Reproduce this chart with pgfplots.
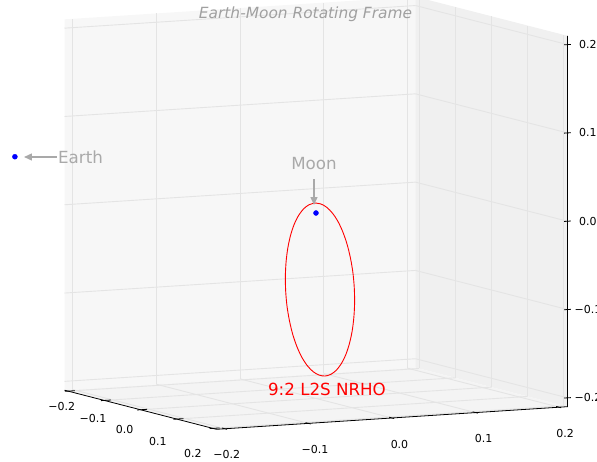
\documentclass[border=0pt]{standalone}
\usepackage{fontspec}
\setmainfont{DejaVu Sans}
\usepackage{pgfplots}
\pgfplotsset{compat=1.18}
\usetikzlibrary{arrows.meta}
\definecolor{paneX}{HTML}{F7F7F7}
\definecolor{paneY}{HTML}{F0F0F0}
\definecolor{paneZ}{HTML}{F4F4F4}
\definecolor{gridc}{HTML}{E4E4E4}
\definecolor{annot}{HTML}{A9A9A9}
\definecolor{titlec}{HTML}{A0A0A0}
\newcommand{\ticksize}{\fontsize{11}{13}\selectfont}
\newcommand{\mns}{\char"2212\relax}
\begin{document}
\begin{tikzpicture}
\begin{axis}[
  set layers,
  anchor=origin, at={(0pt,0pt)},
  x={(361.9pt,-93.1pt)}, y={(835.7pt,53.9pt)}, z={(0pt,883pt)},
  xmin=-0.21,xmax=0.21,ymin=-0.21,ymax=0.21,zmin=-0.21,zmax=0.21,
  clip=false,
  axis line style={draw=none},
  xtick={-0.2,-0.1,0,0.1,0.2},
  ytick={-0.2,-0.1,0,0.1,0.2},
  ztick={-0.2,-0.1,0,0.1,0.2},
  xticklabels={},yticklabels={},zticklabels={},
  major tick length=0pt,
  grid=major,
  major grid style={draw=gridc, line width=0.9pt},
]
\begin{pgfonlayer}{axis background}
\fill[paneX] (axis cs:-0.21,-0.21,-0.21) -- (axis cs:-0.21,0.21,-0.21) -- (axis cs:-0.21,0.21,0.21) -- (axis cs:-0.21,-0.21,0.21) -- cycle;
\fill[paneY] (axis cs:-0.21,0.21,-0.21) -- (axis cs:0.21,0.21,-0.21) -- (axis cs:0.21,0.21,0.21) -- (axis cs:-0.21,0.21,0.21) -- cycle;
\fill[paneZ] (axis cs:-0.21,-0.21,-0.21) -- (axis cs:0.21,-0.21,-0.21) -- (axis cs:0.21,0.21,-0.21) -- (axis cs:-0.21,0.21,-0.21) -- cycle;
\end{pgfonlayer}
% axis lines
\draw[black, line width=0.8pt] (axis cs:-0.21,-0.21,-0.21) -- (axis cs:0.21,-0.21,-0.21) -- (axis cs:0.21,0.21,-0.21) -- (axis cs:0.21,0.21,0.21);
% tick marks
\draw[black, line width=0.8pt] (axis cs:-0.2,-0.214,-0.21) -- (axis cs:-0.2,-0.202,-0.21);
\draw[black, line width=0.8pt] (axis cs:-0.1,-0.214,-0.21) -- (axis cs:-0.1,-0.202,-0.21);
\draw[black, line width=0.8pt] (axis cs:0,-0.214,-0.21) -- (axis cs:0,-0.202,-0.21);
\draw[black, line width=0.8pt] (axis cs:0.1,-0.214,-0.21) -- (axis cs:0.1,-0.202,-0.21);
\draw[black, line width=0.8pt] (axis cs:0.2,-0.214,-0.21) -- (axis cs:0.2,-0.202,-0.21);
\draw[black, line width=0.8pt] (axis cs:0.202,-0.2,-0.21) -- (axis cs:0.216,-0.2,-0.21);
\draw[black, line width=0.8pt] (axis cs:0.202,-0.1,-0.21) -- (axis cs:0.216,-0.1,-0.21);
\draw[black, line width=0.8pt] (axis cs:0.202,0,-0.21) -- (axis cs:0.216,0,-0.21);
\draw[black, line width=0.8pt] (axis cs:0.202,0.1,-0.21) -- (axis cs:0.216,0.1,-0.21);
\draw[black, line width=0.8pt] (axis cs:0.202,0.2,-0.21) -- (axis cs:0.216,0.2,-0.21);
\draw[black, line width=0.8pt] (axis cs:0.21,0.206,0.2) -- (axis cs:0.21,0.214,0.2);
\draw[black, line width=0.8pt] (axis cs:0.21,0.206,0.1) -- (axis cs:0.21,0.214,0.1);
\draw[black, line width=0.8pt] (axis cs:0.21,0.206,0) -- (axis cs:0.21,0.214,0);
\draw[black, line width=0.8pt] (axis cs:0.21,0.206,-0.1) -- (axis cs:0.21,0.214,-0.1);
\draw[black, line width=0.8pt] (axis cs:0.21,0.206,-0.2) -- (axis cs:0.21,0.214,-0.2);
% x tick labels
\node[font=\ticksize, xshift=-6.4pt, yshift=-15.6pt] at (axis cs:-0.2,-0.21,-0.21) {\mns0.2};
\node[font=\ticksize, xshift=-11.3pt, yshift=-17.9pt] at (axis cs:-0.1,-0.21,-0.21) {\mns0.1};
\node[font=\ticksize, xshift=-15.8pt, yshift=-19.8pt] at (axis cs:0,-0.21,-0.21) {0.0};
\node[font=\ticksize, xshift=-18.9pt, yshift=-22pt] at (axis cs:0.1,-0.21,-0.21) {0.1};
\node[font=\ticksize, xshift=-19.9pt, yshift=-25pt] at (axis cs:0.2,-0.21,-0.21) {0.2};
% y tick labels
\node[font=\ticksize, xshift=1.8pt, yshift=-26.2pt] at (axis cs:0.21,-0.2,-0.21) {\mns0.2};
\node[font=\ticksize, xshift=6.6pt, yshift=-26.6pt] at (axis cs:0.21,-0.1,-0.21) {\mns0.1};
\node[font=\ticksize, xshift=7.5pt, yshift=-26.3pt] at (axis cs:0.21,0,-0.21) {0.0};
\node[font=\ticksize, xshift=8.1pt, yshift=-26.4pt] at (axis cs:0.21,0.1,-0.21) {0.1};
\node[font=\ticksize, xshift=5.9pt, yshift=-26.1pt] at (axis cs:0.21,0.2,-0.21) {0.2};
% z tick labels (cut at the right edge, as in the reference)
\node[font=\ticksize, xshift=20.5pt] at (axis cs:0.21,0.21,0.2) {0.2};
\node[font=\ticksize, xshift=20.5pt] at (axis cs:0.21,0.21,0.1) {0.1};
\node[font=\ticksize, xshift=20.5pt] at (axis cs:0.21,0.21,0) {0.0};
\node[font=\ticksize, xshift=20.5pt] at (axis cs:0.21,0.21,-0.1) {\mns0.1};
\node[font=\ticksize, xshift=20.5pt] at (axis cs:0.21,0.21,-0.2) {\mns0.2};
% 9:2 L2 southern NRHO (Moon-centred rotating frame, normalised units)
\addplot3[red, line width=0.9pt, smooth] coordinates {
(-0.0030, 0.0000, 0.0110) (-0.0028, 0.0071, 0.0095) (-0.0022, 0.0140, 0.0052)
(-0.0011, 0.0205, -0.0019) (0.0003, 0.0264, -0.0116) (0.0020, 0.0314, -0.0235)
(0.0040, 0.0355, -0.0373) (0.0062, 0.0385, -0.0525) (0.0086, 0.0404, -0.0688)
(0.0110, 0.0410, -0.0855) (0.0134, 0.0404, -0.1023) (0.0158, 0.0385, -0.1185)
(0.0180, 0.0355, -0.1338) (0.0200, 0.0314, -0.1475) (0.0217, 0.0264, -0.1594)
(0.0231, 0.0205, -0.1691) (0.0242, 0.0140, -0.1762) (0.0248, 0.0071, -0.1805)
(0.0250, 0.0000, -0.1820) (0.0248, -0.0071, -0.1805) (0.0242, -0.0140, -0.1762)
(0.0231, -0.0205, -0.1691) (0.0217, -0.0264, -0.1594) (0.0200, -0.0314, -0.1475)
(0.0180, -0.0355, -0.1338) (0.0158, -0.0385, -0.1185) (0.0134, -0.0404, -0.1023)
(0.0110, -0.0410, -0.0855) (0.0086, -0.0404, -0.0688) (0.0062, -0.0385, -0.0525)
(0.0040, -0.0355, -0.0373) (0.0020, -0.0314, -0.0235) (0.0003, -0.0264, -0.0116)
(-0.0011, -0.0205, -0.0019) (-0.0022, -0.0140, 0.0052) (-0.0028, -0.0071, 0.0095)
(-0.0030, 0.0000, 0.0110)
};
% Earth and Moon
\addplot3[only marks, mark=*, mark size=2.5pt, color=blue] coordinates {(-0.832, 0, -0.024)};
\addplot3[only marks, mark=*, mark size=2.5pt, color=blue] coordinates {(0, 0, 0)};
\end{axis}
% title and annotations
\node[font=\fontsize{15.4}{18}\selectfont\itshape, text=titlec] at (-10.5pt,199pt) {Earth-Moon Rotating Frame};
\node[font=\fontsize{16.7}{19}\selectfont, text=annot] at (-235.5pt,56pt) {Earth};
\draw[annot, line width=1.4pt, -{Triangle[length=8pt,width=7pt]}] (-259pt,56pt) -- (-292pt,56pt);
\node[font=\fontsize{16.7}{19}\selectfont, text=annot] at (-2pt,49pt) {Moon};
\draw[annot, line width=1.4pt, -{Triangle[length=8pt,width=7pt]}] (-2pt,34pt) -- (-2pt,8pt);
\node[font=\fontsize{16.7}{19}\selectfont, text=red] at (11pt,-176.5pt) {9:2 L2S NRHO};
\pgfresetboundingbox
\useasboundingbox (-316pt,-248pt) rectangle (281pt,213pt);
\end{tikzpicture}
\end{document}
